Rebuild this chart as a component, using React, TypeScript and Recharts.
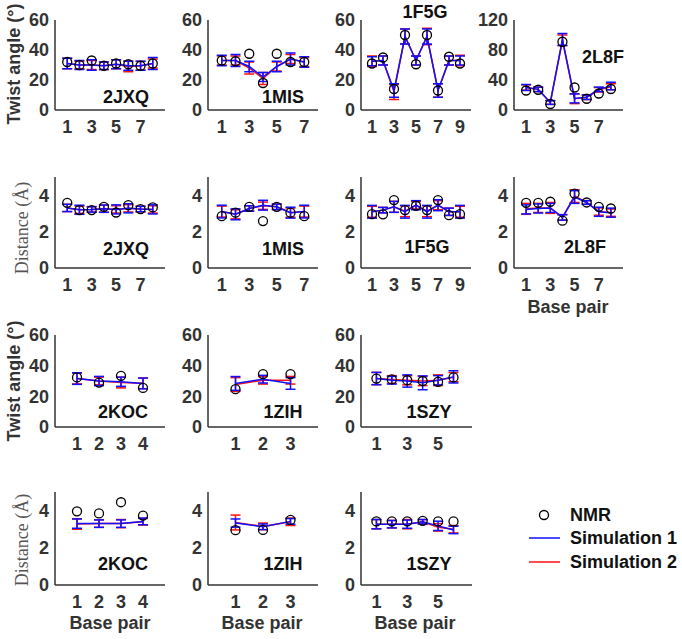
import React from 'react';
import { ComposedChart, Line, XAxis, YAxis, ErrorBar } from 'recharts';

// ---------- Twist angle, row 1 ----------
const jxqTwNmr = [32, 30, 33, 29.5, 31, 30.5, 29.5, 31];
const jxqTwS1 = [31, 30, 30, 29.5, 30.5, 29.5, 29.5, 31];
const jxqTwE1 = [3.5, 3, 3.5, 2.5, 3, 3, 3, 4];
const jxqTwS2 = [31, 30, 30, 29.5, 30.5, 29, 29.5, 31];
const jxqTwE2 = [3.5, 2.5, 3, 2.5, 3, 3.5, 3, 3];

const misTwNmr = [33, 32.5, 37.5, 18, 37.5, 32, 32];
const misTwS1 = [33, 33, 29, 22, 29, 34, 32];
const misTwE1 = [3.5, 4, 3.5, 3, 3.5, 4, 3.5];
const misTwS2 = [33, 33, 28, 21, 29, 34, 32];
const misTwE2 = [3, 3, 4, 4, 3, 3, 3];

const f5gTwNmr = [31, 35, 14, 50, 30.5, 50, 13, 35.5, 31];
const f5gTwS1 = [32.5, 33, 13, 49, 33, 49, 13, 33, 33];
const f5gTwE1 = [3, 3, 4.5, 5, 3, 5, 4.5, 3, 3];
const f5gTwS2 = [32.5, 33, 12, 49, 33, 49, 13, 33, 33];
const f5gTwE2 = [3.5, 3, 5, 5, 3, 5.5, 4.5, 3, 3.5];

const l8fTwNmr = [26, 27, 8, 91, 30, 15, 22, 28];
const l8fTwS1 = [30, 27.5, 10, 94, 15.5, 17, 27.5, 32];
const l8fTwE1 = [4, 3, 2.5, 8, 6, 3, 3, 5];
const l8fTwS2 = [30, 27.5, 10, 93, 15, 17, 27, 31];
const l8fTwE2 = [3.5, 3, 2.5, 7, 6.5, 3, 3, 4];

// ---------- Distance, row 2 ----------
const jxqDiNmr = [3.58, 3.18, 3.18, 3.36, 3.05, 3.45, 3.24, 3.33];
const jxqDiS1 = [3.3, 3.2, 3.22, 3.26, 3.22, 3.28, 3.24, 3.22];
const jxqDiE1 = [0.2, 0.25, 0.15, 0.2, 0.25, 0.25, 0.15, 0.25];
const jxqDiS2 = [3.3, 3.2, 3.22, 3.26, 3.22, 3.28, 3.24, 3.22];
const jxqDiE2 = [0.2, 0.2, 0.15, 0.2, 0.2, 0.2, 0.15, 0.2];

const misDiNmr = [2.85, 3.04, 3.36, 2.58, 3.36, 3.04, 2.85];
const misDiS1 = [3.1, 2.95, 3.27, 3.45, 3.36, 3.04, 3.1];
const misDiE1 = [0.35, 0.3, 0.15, 0.27, 0.15, 0.3, 0.35];
const misDiS2 = [3.1, 2.95, 3.27, 3.42, 3.36, 3.04, 3.1];
const misDiE2 = [0.3, 0.25, 0.15, 0.2, 0.15, 0.25, 0.3];

const f5gDiNmr = [2.96, 2.95, 3.73, 3.18, 3.42, 3.18, 3.73, 2.9, 2.96];
const f5gDiS1 = [3.09, 3.18, 3.36, 3.09, 3.45, 3.09, 3.45, 3.09, 3.09];
const f5gDiE1 = [0.35, 0.15, 0.3, 0.35, 0.25, 0.35, 0.3, 0.2, 0.35];
const f5gDiS2 = [3.09, 3.18, 3.36, 3.12, 3.45, 3.12, 3.45, 3.09, 3.09];
const f5gDiE2 = [0.3, 0.15, 0.3, 0.3, 0.2, 0.3, 0.25, 0.2, 0.3];

const l8fDiNmr = [3.58, 3.58, 3.64, 2.6, 4.09, 3.6, 3.36, 3.27];
const l8fDiS1 = [3.22, 3.27, 3.3, 2.78, 3.9, 3.6, 3.09, 3.04];
const l8fDiE1 = [0.25, 0.25, 0.25, 0.15, 0.35, 0.1, 0.25, 0.25];
const l8fDiS2 = [3.25, 3.3, 3.3, 2.78, 3.95, 3.6, 3.1, 3.04];
const l8fDiE2 = [0.3, 0.25, 0.3, 0.15, 0.35, 0.1, 0.2, 0.2];

// ---------- Twist angle, row 3 ----------
const kocTwNmr = [32.3, 29, 33.4, 25.5];
const kocTwS1 = [31.6, 30, 29.5, 28.4];
const kocTwE1 = [3.8, 3, 3, 3.5];
const kocTwS2 = [31.6, 30, 29, 28.5];
const kocTwE2 = [3.5, 2.5, 3.5, 3.5];

const zihTwNmr = [24.7, 34.5, 34.5];
const zihTwS1 = [28.4, 31.2, 28.4];
const zihTwE1 = [4.5, 2.5, 3.8];
const zihTwS2 = [27.7, 30.5, 30.5];
const zihTwE2 = [4.5, 2.5, 2.5];

const szyTwNmr = [31.6, 31, 30.5, 30, 29.5, 32.3];
const szyTwS1 = [31.6, 30.5, 30, 28.8, 30.5, 32.7];
const szyTwE1 = [4, 2.5, 4, 4.5, 3, 4];
const szyTwS2 = [31.6, 31, 30.5, 30, 30.5, 32.5];
const szyTwE2 = [4, 2.5, 3, 3, 3.5, 3];

// ---------- Distance, row 4 ----------
const kocDiNmr = [3.96, 3.85, 4.45, 3.73];
const kocDiS1 = [3.3, 3.3, 3.3, 3.42];
const kocDiE1 = [0.25, 0.2, 0.2, 0.18];
const kocDiS2 = [3.28, 3.3, 3.3, 3.4];
const kocDiE2 = [0.28, 0.2, 0.22, 0.18];

const zihDiNmr = [2.95, 2.96, 3.5];
const zihDiS1 = [3.33, 3.13, 3.42];
const zihDiE1 = [0.22, 0.15, 0.15];
const zihDiS2 = [3.36, 3.15, 3.4];
const zihDiE2 = [0.4, 0.18, 0.2];

const szyDiNmr = [3.42, 3.42, 3.42, 3.45, 3.42, 3.42];
const szyDiS1 = [3.27, 3.27, 3.27, 3.4, 3.18, 2.96];
const szyDiE1 = [0.25, 0.2, 0.22, 0.12, 0.25, 0.2];
const szyDiS2 = [3.27, 3.27, 3.27, 3.4, 3.1, 3.0];
const szyDiE2 = [0.25, 0.2, 0.25, 0.12, 0.2, 0.2];

// tick labels
const twistTicks = [0, 20, 40, 60];
const twistTicks120 = [0, 40, 80, 120];
const distTicks = [0, 2, 4];
const oddTicks7 = [1, 3, 5, 7];
const oddTicks9 = [1, 3, 5, 7, 9];
const ticks1to4 = [1, 2, 3, 4];
const ticks1to3 = [1, 2, 3];
const oddTicks5 = [1, 3, 5];

const build = (n: number[], s1: number[], e1: number[], s2: number[], e2: number[]) =>
  n.map((v, i) => ({ x: i + 1, nmr: v, s1: s1[i], e1: e1[i], s2: s2[i], e2: e2[i] }));

type P = {
  x0: number; x1: number; yt: number; yb: number;
  xd: number[]; xt: number[]; yd: number[]; ytk: number[];
  data: any[];
};

const panels: P[] = [
  { x0: 55, x1: 165, yt: 20, yb: 110, xd: [0, 9], xt: oddTicks7, yd: [0, 60], ytk: twistTicks, data: build(jxqTwNmr, jxqTwS1, jxqTwE1, jxqTwS2, jxqTwE2) },
  { x0: 208, x1: 318, yt: 20, yb: 110, xd: [0, 8], xt: oddTicks7, yd: [0, 60], ytk: twistTicks, data: build(misTwNmr, misTwS1, misTwE1, misTwS2, misTwE2) },
  { x0: 361, x1: 471, yt: 20, yb: 110, xd: [0, 10], xt: oddTicks9, yd: [0, 60], ytk: twistTicks, data: build(f5gTwNmr, f5gTwS1, f5gTwE1, f5gTwS2, f5gTwE2) },
  { x0: 514, x1: 623, yt: 20, yb: 110, xd: [0, 9], xt: oddTicks7, yd: [0, 120], ytk: twistTicks120, data: build(l8fTwNmr, l8fTwS1, l8fTwE1, l8fTwS2, l8fTwE2) },

  { x0: 55, x1: 165, yt: 177, yb: 268, xd: [0, 9], xt: oddTicks7, yd: [0, 5], ytk: distTicks, data: build(jxqDiNmr, jxqDiS1, jxqDiE1, jxqDiS2, jxqDiE2) },
  { x0: 208, x1: 318, yt: 177, yb: 268, xd: [0, 8], xt: oddTicks7, yd: [0, 5], ytk: distTicks, data: build(misDiNmr, misDiS1, misDiE1, misDiS2, misDiE2) },
  { x0: 361, x1: 471, yt: 177, yb: 268, xd: [0, 10], xt: oddTicks9, yd: [0, 5], ytk: distTicks, data: build(f5gDiNmr, f5gDiS1, f5gDiE1, f5gDiS2, f5gDiE2) },
  { x0: 514, x1: 623, yt: 177, yb: 268, xd: [0, 9], xt: oddTicks7, yd: [0, 5], ytk: distTicks, data: build(l8fDiNmr, l8fDiS1, l8fDiE1, l8fDiS2, l8fDiE2) },

  { x0: 55, x1: 165, yt: 335, yb: 427, xd: [0, 5], xt: ticks1to4, yd: [0, 60], ytk: twistTicks, data: build(kocTwNmr, kocTwS1, kocTwE1, kocTwS2, kocTwE2) },
  { x0: 208, x1: 318, yt: 335, yb: 427, xd: [0, 4], xt: ticks1to3, yd: [0, 60], ytk: twistTicks, data: build(zihTwNmr, zihTwS1, zihTwE1, zihTwS2, zihTwE2) },
  { x0: 361, x1: 472, yt: 335, yb: 427, xd: [0, 7.2], xt: oddTicks5, yd: [0, 60], ytk: twistTicks, data: build(szyTwNmr, szyTwS1, szyTwE1, szyTwS2, szyTwE2) },

  { x0: 55, x1: 165, yt: 492, yb: 585, xd: [0, 5], xt: ticks1to4, yd: [0, 5], ytk: distTicks, data: build(kocDiNmr, kocDiS1, kocDiE1, kocDiS2, kocDiE2) },
  { x0: 208, x1: 318, yt: 492, yb: 585, xd: [0, 4], xt: ticks1to3, yd: [0, 5], ytk: distTicks, data: build(zihDiNmr, zihDiS1, zihDiE1, zihDiS2, zihDiE2) },
  { x0: 361, x1: 472, yt: 492, yb: 585, xd: [0, 7.2], xt: oddTicks5, yd: [0, 5], ytk: distTicks, data: build(szyDiNmr, szyDiS1, szyDiE1, szyDiS2, szyDiE2) },
];

const titles = [
  { t: '2JXQ', x: 126, y: 103 }, { t: '1MIS', x: 283, y: 103 }, { t: '1F5G', x: 425, y: 18 }, { t: '2L8F', x: 603, y: 63 },
  { t: '2JXQ', x: 126, y: 255 }, { t: '1MIS', x: 283, y: 255 }, { t: '1F5G', x: 427, y: 253 }, { t: '2L8F', x: 585, y: 253 },
  { t: '2KOC', x: 123, y: 418 }, { t: '1ZIH', x: 283, y: 418 }, { t: '1SZY', x: 429, y: 418 },
  { t: '2KOC', x: 123, y: 570 }, { t: '1ZIH', x: 283, y: 570 }, { t: '1SZY', x: 429, y: 570 },
];

const FONT = 'Arial, "Liberation Sans", sans-serif';
const AX = '#333333';
const BLUE = '#1010ff';
const RED = '#ff1010';

const tickStyle = { fontSize: 18, fontWeight: 'bold', fill: AX, fontFamily: FONT };

function Panel({ p }: { p: P }) {
  const YAW = 50, XAH = 36, PT = 10, PR = 10;
  const w = p.x1 - p.x0;
  const h = p.yb - p.yt;
  return (
    <div style={{ position: 'absolute', left: p.x0 - YAW, top: p.yt - PT }}>
      <ComposedChart width={YAW + w + PR} height={PT + h + XAH} data={p.data}
        margin={{ top: PT, right: PR, left: 0, bottom: 0 }}>
        <XAxis type="number" dataKey="x" domain={p.xd} ticks={p.xt} interval={0} height={XAH}
          axisLine={{ stroke: AX, strokeWidth: 1.5 }} tickLine={false} tickSize={6} tickMargin={4}
          tick={tickStyle} allowDataOverflow />
        <YAxis type="number" domain={p.yd} ticks={p.ytk} interval={0} width={YAW}
          axisLine={{ stroke: AX, strokeWidth: 1.5 }} tickLine={false} tickSize={5} tickMargin={1}
          tick={tickStyle} allowDataOverflow />
        <Line dataKey="s2" stroke={RED} strokeWidth={1.5} dot={false} isAnimationActive={false}>
          <ErrorBar dataKey="e2" direction="y" width={5} stroke={RED} strokeWidth={1.5} isAnimationActive={false} />
        </Line>
        <Line dataKey="s1" stroke={BLUE} strokeWidth={1.5} dot={false} isAnimationActive={false}>
          <ErrorBar dataKey="e1" direction="y" width={5} stroke={BLUE} strokeWidth={1.5} isAnimationActive={false} />
        </Line>
        <Line dataKey="nmr" stroke="none" strokeWidth={0}
          dot={{ r: 4.5, fill: 'none', stroke: '#000', strokeWidth: 1.3 }}
          activeDot={false} isAnimationActive={false} />
      </ComposedChart>
    </div>
  );
}

export default function App() {
  const bold = { fontFamily: FONT, fontWeight: 'bold' as const, fontSize: 18 };
  return (
    <div style={{ position: 'absolute', left: 0, top: 0, width: 682, height: 639, background: '#fff' }}>
      {panels.map((p, i) => <Panel key={i} p={p} />)}
      <svg width={682} height={639} style={{ position: 'absolute', left: 0, top: 0, pointerEvents: 'none' }}>
        {titles.map((t, i) => (
          <text key={i} x={t.x} y={t.y} textAnchor="middle" fill="#111" {...bold}>{t.t}</text>
        ))}
        <text transform="translate(20,64) rotate(-90)" textAnchor="middle" fill={AX} {...bold}>Twist angle (°)</text>
        <text transform="translate(20,381) rotate(-90)" textAnchor="middle" fill={AX} {...bold}>Twist angle (°)</text>
        <text transform="translate(28,228) rotate(-90)" textAnchor="middle" fill="#555"
          fontFamily='"Liberation Serif", "Times New Roman", serif' fontSize={18}>Distance (Å)</text>
        <text transform="translate(28,540) rotate(-90)" textAnchor="middle" fill="#555"
          fontFamily='"Liberation Serif", "Times New Roman", serif' fontSize={18}>Distance (Å)</text>
        <text x={568} y={313} textAnchor="middle" fill={AX} {...bold}>Base pair</text>
        <text x={110} y={629} textAnchor="middle" fill={AX} {...bold}>Base pair</text>
        <text x={262} y={629} textAnchor="middle" fill={AX} {...bold}>Base pair</text>
        <text x={415} y={629} textAnchor="middle" fill={AX} {...bold}>Base pair</text>
        <circle cx={544} cy={515} r={4.5} fill="none" stroke="#000" strokeWidth={1.3} />
        <text x={570} y={521} fill="#111" {...bold}>NMR</text>
        <line x1={529} x2={560} y1={538} y2={538} stroke={BLUE} strokeWidth={1.5} />
        <text x={570} y={544} fill="#111" {...bold}>Simulation 1</text>
        <line x1={529} x2={560} y1={562} y2={562} stroke={RED} strokeWidth={1.5} />
        <text x={570} y={568} fill="#111" {...bold}>Simulation 2</text>
      </svg>
    </div>
  );
}
